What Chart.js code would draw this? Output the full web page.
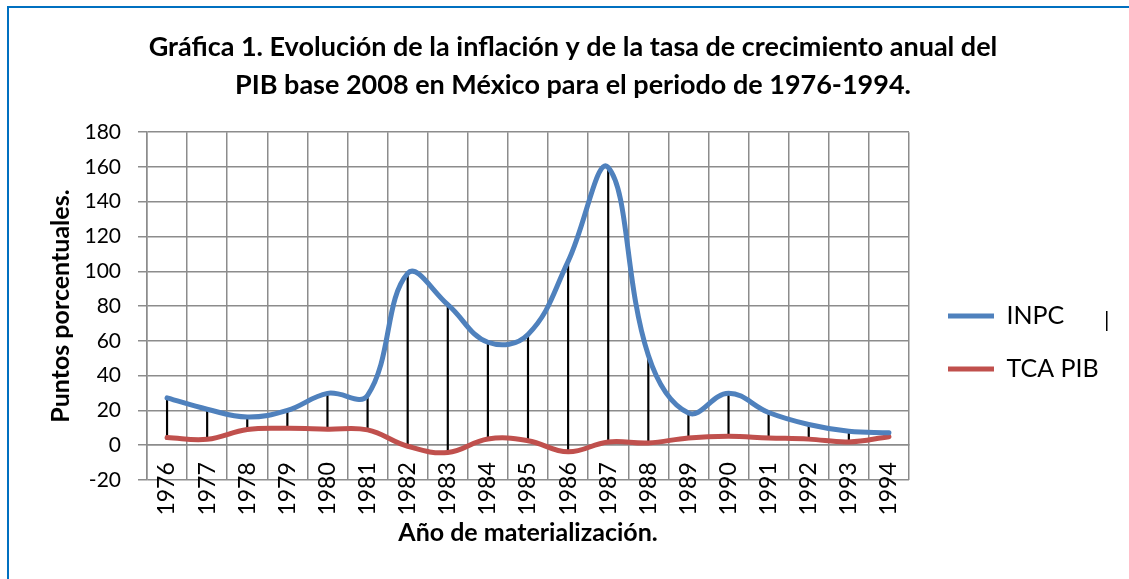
<!DOCTYPE html>
<html lang="es">
<head>
<meta charset="utf-8">
<title>Gráfica 1</title>
<script src="https://cdn.jsdelivr.net/npm/chart.js@4.4.1/dist/chart.umd.min.js"></script>
<style>
  html, body { margin: 0; padding: 0; background: #fff; overflow: hidden; }
  #wrap { position: relative; width: 1129px; height: 579px; }
  #frame {
    position: absolute; left: 7px; top: 6px; width: 1200px; height: 700px;
    border-left: 2px solid #0070C0; border-top: 2px solid #0070C0;
    pointer-events: none;
  }
  #caret { position: absolute; left: 1104px; top: 305px; font: 22px Lato, sans-serif; color: #000; }
</style>
</head>
<body>
<div id="wrap">
  <canvas id="grafica" width="1129" height="579"></canvas>
  <div id="frame"></div>
  <div id="caret">|</div>
</div>
<script>
// Gráfica 1 — INPC vs TCA PIB, México 1976-1994
const YEARS = ['1976', '1977', '1978', '1979', '1980', '1981', '1982', '1983', '1984', '1985',
  '1986', '1987', '1988', '1989', '1990', '1991', '1992', '1993', '1994'];
const INPC = [27.2, 20.7, 16.2, 20.0, 29.8, 28.7, 98.8, 80.8, 59.2, 63.7,
  105.7, 159.7, 51.7, 18.5, 29.9, 18.8, 11.9, 8.0, 7.1];
const TCA_PIB = [4.4, 3.4, 9.0, 9.7, 9.2, 8.8, -0.6, -4.2, 3.6, 2.6,
  -3.8, 1.9, 1.3, 4.2, 5.1, 4.2, 3.5, 1.9, 4.9];
const Y_MIN = -20;
const Y_MAX = 180;
const Y_STEP = 20;

const BLUE = '#4F81BD';
const RED = '#C0504D';
const GRID = '#8c8c8c';
const FONT = 'Lato, "Open Sans", sans-serif';

// high-low lines between both series
const dropLines = YEARS.map((_, i) => [TCA_PIB[i], INPC[i]]);

new Chart(document.getElementById('grafica'), {
  type: 'line',
  data: {
    labels: YEARS,
    datasets: [
      {
        label: 'INPC',
        data: INPC,
        borderColor: BLUE,
        backgroundColor: BLUE,
        borderWidth: 5,
        borderCapStyle: 'round',
        borderJoinStyle: 'round',
        pointRadius: 0,
        tension: 0.4,
        order: 1,
      },
      {
        label: 'TCA PIB',
        data: TCA_PIB,
        borderColor: RED,
        backgroundColor: RED,
        borderWidth: 5,
        borderCapStyle: 'round',
        borderJoinStyle: 'round',
        pointRadius: 0,
        tension: 0.4,
        order: 2,
      },
      {
        type: 'bar',
        label: 'drop',
        data: dropLines,
        backgroundColor: '#000',
        barThickness: 1.5,
        order: 3,
      },
    ],
  },
  options: {
    responsive: false,
    animation: false,
    layout: { padding: { top: 7, left: 46, right: 29, bottom: 99 } },
    plugins: {
      tooltip: { enabled: false },
      title: {
        display: true,
        text: [
          'Gráfica 1. Evolución de la inflación y de la tasa de crecimiento anual del',
          'PIB base 2008 en México para el periodo de 1976-1994.',
        ],
        color: '#000',
        font: { family: FONT, size: 27, weight: 'bold', lineHeight: 1.41 },
        padding: { top: 21, bottom: 28 },
      },
      legend: {
        position: 'right',
        maxWidth: 180,
        title: { display: true, text: ' ', font: { size: 10 }, padding: { top: 0, bottom: 186 } },
        labels: {
          filter: (item) => item.text !== 'drop',
          usePointStyle: true,
          pointStyle: 'line',
          pointStyleWidth: 46,
          padding: 28,
          color: '#000',
          font: { family: FONT, size: 25 },
        },
      },
    },
    scales: {
      x: {
        position: { y: 0 },
        offset: true,
        afterFit: (scale) => { scale.height -= 17; },
        grid: { display: true, offset: true, color: GRID, lineWidth: 1.5, tickLength: 0 },
        border: { color: GRID, width: 1.5 },
        ticks: {
          color: '#000',
          font: { family: FONT, size: 23 },
          minRotation: 90,
          maxRotation: 90,
          padding: 17,
          autoSkip: false,
        },
        title: {
          display: true,
          text: 'Año de materialización.',
          color: '#000',
          font: { family: FONT, size: 25, weight: 'bold' },
          padding: { top: 2, bottom: 0 },
        },
      },
      y: {
        position: 'left',
        min: Y_MIN,
        max: Y_MAX,
        afterFit: (scale) => { scale.width = 101; },
        grid: { color: GRID, lineWidth: 1.5, tickLength: 9 },
        border: { color: GRID, width: 1.5 },
        ticks: {
          stepSize: Y_STEP,
          color: '#000',
          font: { family: FONT, size: 21 },
          padding: 17,
        },
        title: {
          display: true,
          text: 'Puntos porcentuales.',
          color: '#000',
          font: { family: FONT, size: 25, weight: 'bold' },
          padding: { top: 0, bottom: 0 },
        },
      },
      spacer: {
        position: 'right',
        display: true,
        afterFit: (scale) => { scale.width = 11; },
        grid: { display: false },
        border: { display: false },
        ticks: { display: false },
      },
    },
  },
});
</script>
</body>
</html>
